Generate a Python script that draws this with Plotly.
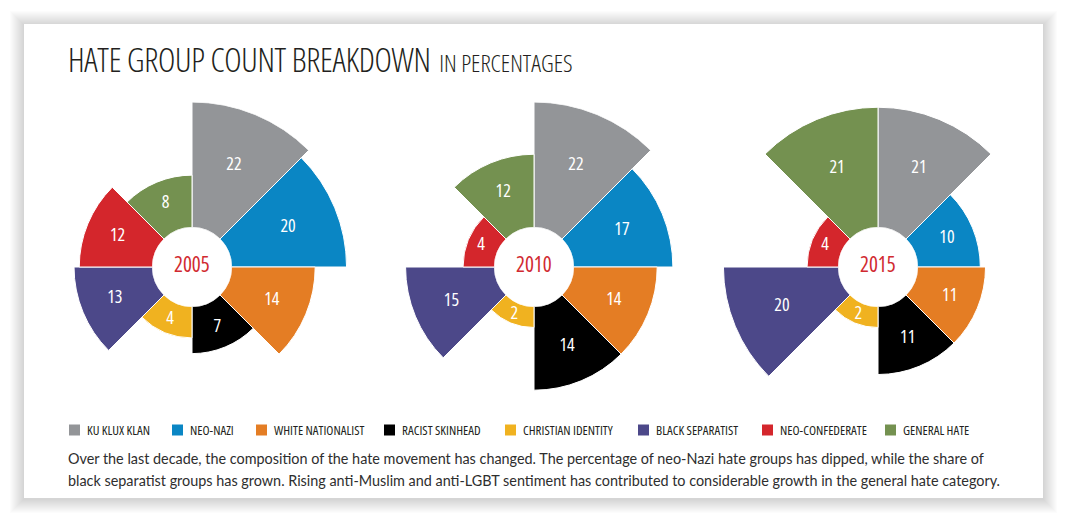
import plotly.graph_objects as go

# ---------------- data ----------------
categories = ["KU KLUX KLAN", "NEO-NAZI", "WHITE NATIONALIST", "RACIST SKINHEAD",
              "CHRISTIAN IDENTITY", "BLACK SEPARATIST", "NEO-CONFEDERATE", "GENERAL HATE"]
years = ["2005", "2010", "2015"]
values_2005 = [22, 20, 14, 7, 4, 13, 12, 8]
values_2010 = [22, 17, 14, 14, 2, 15, 4, 12]
values_2015 = [21, 10, 11, 11, 2, 20, 4, 21]
series = [values_2005, values_2010, values_2015]

colors = ["#939598", "#0a86c4", "#e47d24", "#000000",
          "#f0b220", "#4c4889", "#d4262c", "#749150"]

title_main = "HATE GROUP COUNT BREAKDOWN"
title_sub = "IN PERCENTAGES"
caption_1 = ("Over the last decade, the composition of the hate movement has changed. "
             "The percentage of neo-Nazi hate groups has dipped, while the share of")
caption_2 = ("black separatist groups has grown. Rising anti-Muslim and anti-LGBT sentiment "
             "has contributed to considerable growth in the general hate category.")

# ---------------- layout constants ----------------
W, H = 1067, 520
R_START = -2          # radial value at the hole edge
R_END = 22            # radial value at outer edge of the domain
centers = [(192, 267), (534, 267), (878, 267)]
OUTER = 165
HOLE = 0.24
COND = "Open Sans"
legend_left = [69, 172, 256, 384, 505, 638, 762, 885]
legend_y = 430


def px(x):
    return x / W


def py(y):
    return 1 - y / H


def cond(t, extra=""):
    return f"<span style='font-stretch:75%;{extra}'>{t}</span>"


fig = go.Figure()

shapes = []
# soft card shadow
for i in range(1, 15):
    shapes.append(dict(type="rect", xref="paper", yref="paper", layer="below",
                       x0=px(24 - i), x1=px(1043 + i), y0=py(498 + i + 1), y1=py(24 - i + 1),
                       fillcolor="rgba(0,0,0,0.012)", line=dict(width=0)))
shapes.append(dict(type="rect", xref="paper", yref="paper", layer="below",
                   x0=px(24), x1=px(1043), y0=py(498), y1=py(24),
                   fillcolor="white", line=dict(width=0)))

annotations = []
for k, (yr, vals) in enumerate(zip(years, series)):
    sub = "polar" if k == 0 else f"polar{k + 1}"
    fig.add_trace(go.Barpolar(
        r=[v - R_START for v in vals], base=R_START, theta=categories,
        marker=dict(color=colors, line=dict(color="white", width=1)),
        subplot=sub, showlegend=False, hoverinfo="text",
        hovertext=[f"{c}: {v}" for c, v in zip(categories, vals)],
    ))
    fig.add_trace(go.Scatterpolar(
        r=[R_START + 0.56 * (v - R_START) for v in vals], theta=categories,
        mode="text", text=[cond(v) for v in vals],
        textfont=dict(family=COND, size=18, color="white"),
        subplot=sub, showlegend=False, hoverinfo="skip",
    ))
    cx, cy = centers[k]
    fig.layout[sub] = dict(
        domain=dict(x=[px(cx - OUTER), px(cx + OUTER)], y=[py(cy + OUTER), py(cy - OUTER)]),
        hole=HOLE, bargap=0, bgcolor="rgba(0,0,0,0)",
        radialaxis=dict(visible=False, range=[R_START, R_END]),
        angularaxis=dict(type="category", categoryarray=categories, rotation=67.5,
                         direction="clockwise", showgrid=False, showline=False,
                         showticklabels=False, ticks=""),
    )
    annotations.append(dict(x=px(cx), y=py(cy - 3), xref="paper", yref="paper",
                            text=cond(yr), showarrow=False, xanchor="center", yanchor="middle",
                            font=dict(family=COND, size=21, color="#d12a30")))

# title
annotations.append(dict(
    x=px(66), y=py(59), xref="paper", yref="paper", xanchor="left", yanchor="middle",
    showarrow=False,
    text=(cond(title_main, "letter-spacing:-0.3px;font-weight:300") + " "
          + cond(title_sub, "font-size:24px;font-weight:300")),
    font=dict(family=COND, size=33, color="#231f20")))

# legend
for left, cat, col in zip(legend_left, categories, colors):
    shapes.append(dict(type="rect", xref="paper", yref="paper",
                       x0=px(left), x1=px(left + 11), y0=py(legend_y + 5.5), y1=py(legend_y - 5.5),
                       fillcolor=col, line=dict(width=0)))
    annotations.append(dict(x=px(left + 16), y=py(legend_y), xref="paper", yref="paper",
                            xanchor="left", yanchor="middle", showarrow=False, text=cond(cat),
                            font=dict(family=COND, size=13, color="#231f20")))

# caption
for line, yy in ((caption_1, 458), (caption_2, 480)):
    annotations.append(dict(x=px(66), y=py(yy), xref="paper", yref="paper",
                            xanchor="left", yanchor="middle", showarrow=False, text=line,
                            font=dict(family="Lato", size=14.4, color="#2e2e2e")))

fig.update_layout(width=W, height=H, margin=dict(l=0, r=0, t=0, b=0),
                  paper_bgcolor="white", plot_bgcolor="white",
                  shapes=shapes, annotations=annotations, showlegend=False)

fig.write_html("out.html", config={"displayModeBar": False},
               post_script="document.body.style.margin='0px';")
